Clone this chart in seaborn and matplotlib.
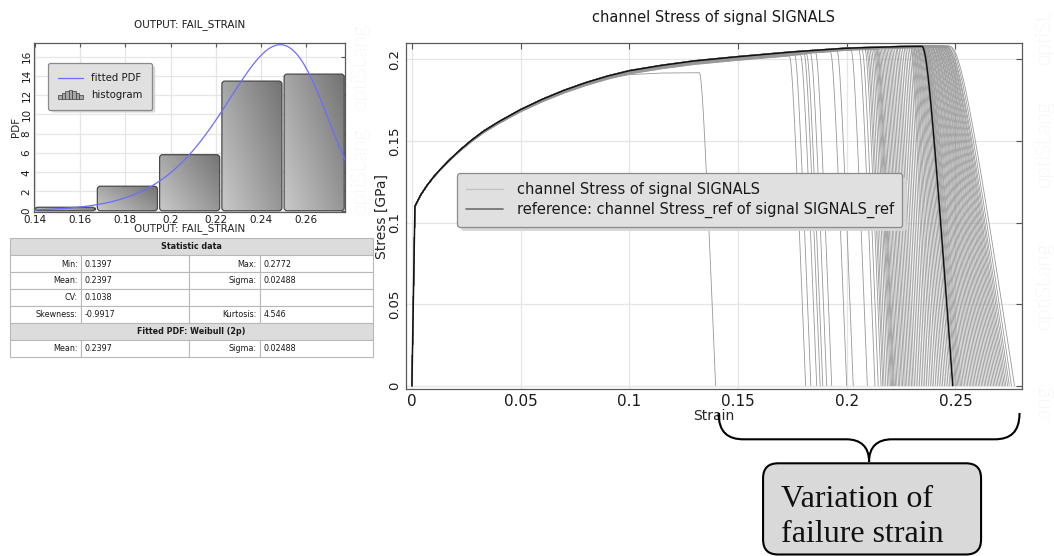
import math
import numpy as np
import pandas as pd
import matplotlib
matplotlib.use("Agg")
import matplotlib.pyplot as plt
from matplotlib.patches import FancyBboxPatch, Rectangle, PathPatch
from matplotlib.path import Path
from matplotlib.lines import Line2D
from matplotlib.legend_handler import HandlerBase
from matplotlib.colors import LinearSegmentedColormap
from matplotlib.transforms import Bbox, TransformedBbox
import seaborn as sns

# ---------------------------------------------------------------- data
# reference hardening curve (strain, stress in GPa)
ref_strain = [0.0, 0.0014, 0.004, 0.007, 0.010, 0.013, 0.017, 0.022, 0.0275,
              0.033, 0.040, 0.050, 0.060, 0.070, 0.080, 0.090, 0.100, 0.115,
              0.130, 0.150, 0.175, 0.200, 0.225, 0.245, 0.260]
ref_stress = [0.0, 0.1100, 0.1168, 0.1228, 0.1280, 0.1325, 0.1380, 0.1443, 0.1505,
              0.1560, 0.1618, 0.1692, 0.1755, 0.1810, 0.1857, 0.1897, 0.1930, 0.1963,
              0.1990, 0.2016, 0.2045, 0.2068, 0.2078, 0.2081, 0.2082]
ref_fail_strain = 0.2488

# failure strain of the 100 sampled designs
fail_strain = [
    0.1397,
    0.1811, 0.1835, 0.1862, 0.1878, 0.1890, 0.1908, 0.1931,
    0.2000, 0.2030, 0.2095, 0.2130, 0.2145, 0.2158, 0.2166, 0.2172, 0.2180, 0.2188,
    0.2195, 0.2201, 0.2206, 0.2211, 0.2215, 0.2219,
    0.2225, 0.2231, 0.2238, 0.2244, 0.2251, 0.2257, 0.2264, 0.2270, 0.2277, 0.2284,
    0.2291, 0.2298, 0.2305, 0.2312, 0.2320, 0.2328, 0.2336, 0.2344, 0.2352, 0.2360,
    0.2368, 0.2376, 0.2385, 0.2393, 0.2401, 0.2410, 0.2418, 0.2426, 0.2434, 0.2442,
    0.2450, 0.2458, 0.2466, 0.2474, 0.2481, 0.2488, 0.2494,
    0.2500, 0.2505, 0.2511, 0.2517, 0.2523, 0.2529, 0.2536, 0.2543, 0.2550, 0.2557,
    0.2564, 0.2571, 0.2578, 0.2585, 0.2592, 0.2599, 0.2606, 0.2613, 0.2620, 0.2627,
    0.2634, 0.2641, 0.2648, 0.2655, 0.2662, 0.2669, 0.2676, 0.2683, 0.2690, 0.2697,
    0.2704, 0.2711, 0.2718, 0.2725, 0.2732, 0.2740, 0.2748, 0.2758, 0.2772,
]
# scale on the hardening part of each sampled curve
hardening_scale = [
    0.985,
    0.975, 0.982, 0.978, 0.986, 0.980, 0.984, 0.988,
    0.984, 0.990, 0.986, 0.992, 0.988, 0.994, 0.990, 0.996, 0.992, 0.987,
    0.995, 0.991, 0.997, 0.993, 0.989, 0.996,
    0.992, 0.998, 0.994, 1.000, 0.990, 0.996, 0.993, 0.999, 0.995, 0.991,
    0.997, 1.002, 0.994, 0.998, 0.992, 0.996, 1.000, 0.993, 0.997, 0.995,
    0.999, 0.991, 0.996, 1.001, 0.994, 0.998, 0.992, 0.997, 1.000, 0.995,
    0.993, 0.999, 0.996, 1.002, 0.994, 0.998, 0.995,
    0.996, 1.000, 0.993, 0.998, 1.003, 0.995, 0.999, 0.992, 0.997, 1.001,
    0.994, 0.998, 1.002, 0.996, 0.993, 0.999, 1.000, 0.995, 0.997, 1.003,
    0.994, 0.998, 0.996, 1.001, 0.993, 0.999, 0.997, 1.002, 0.995, 0.998,
    1.000, 0.994, 0.997, 1.001, 0.996, 0.999, 0.995, 1.002, 0.998,
]
# the earliest failing design saturates on a lower plateau (failure strain, stress)
low_plateau = (0.1397, 0.1918)

n_bins = 5
fit_mean = 0.2397
fit_sigma = 0.02488

stat_table = [
    ("header", "Statistic data"),
    ("cells", ("Min:", "0.1397", "Max:", "0.2772")),
    ("cells", ("Mean:", "0.2397", "Sigma:", "0.02488")),
    ("cells", ("CV:", "0.1038", "", "")),
    ("cells", ("Skewness:", "-0.9917", "Kurtosis:", "4.546")),
    ("header", "Fitted PDF: Weibull (2p)"),
    ("cells", ("Mean:", "0.2397", "Sigma:", "0.02488")),
]

x_ticks = [0, 0.05, 0.1, 0.15, 0.2, 0.25]
y_ticks = [0, 0.05, 0.1, 0.15, 0.2]
hx_ticks = [0.14, 0.16, 0.18, 0.2, 0.22, 0.24, 0.26]
hy_ticks = [0, 2, 4, 6, 8, 10, 12, 14, 16]

# ---------------------------------------------------------------- helpers
YIELD = ref_stress[1]


def stress_curve(ef, k, cap=None):
    """Scaled hardening curve followed by a softening branch ending at ef."""
    e = np.asarray(ref_strain)
    s = np.asarray(ref_stress)
    s = np.where(e >= ref_strain[1], YIELD + k * (s - YIELD), s)
    if cap is not None:
        beta = 600.0
        s = np.where(e >= ref_strain[1],
                     -np.log(np.exp(-beta * s) + np.exp(-beta * cap)) / beta, s)
    onset = min(ef - 0.0075, 0.2230 + 0.45 * (ef - 0.2230))
    keep = e < onset
    s_on = np.interp(onset, e, s)
    t = np.linspace(0.0, 1.0, 50)
    r = 0.25
    drop = (np.sqrt(t ** 2 + r ** 2) - r) / (np.sqrt(1 + r ** 2) - r)
    e_drop = onset + t * (ef - onset)
    s_drop = s_on * (1.0 - drop)
    return np.concatenate([e[keep], e_drop]), np.concatenate([s[keep], s_drop])


def weibull_shape(cv):
    lo, hi = 1.0, 80.0
    for _ in range(100):
        k = 0.5 * (lo + hi)
        g1 = math.gamma(1 + 1 / k)
        g2 = math.gamma(1 + 2 / k)
        if math.sqrt(g2 / g1 ** 2 - 1) > cv:
            lo = k
        else:
            hi = k
    return k


class HistIcon:
    pass


class HistIconHandler(HandlerBase):
    def create_artists(self, legend, orig_handle, xdescent, ydescent,
                       width, height, fontsize, trans):
        rel = [0.3, 0.6, 0.95, 1.1, 0.95, 0.6, 0.3]
        bw = width / len(rel)
        arts = []
        for i, r in enumerate(rel):
            arts.append(Rectangle((-xdescent + i * bw, -ydescent - 1), bw, height * r + 1,
                                  facecolor="#a8a8a8", edgecolor="#3c3c3c", lw=0.5,
                                  transform=trans))
        return arts


# ---------------------------------------------------------------- figure
sns.set_style("white")
plt.rcParams["font.family"] = ["DejaVu Sans"]
plt.rcParams["text.color"] = "#1a1a1a"

W, H = 1054, 556
fig = plt.figure(figsize=(W / 100, H / 100), dpi=100)


def fx(x):
    return x / W


def fy(y):
    return 1 - y / H


ax = fig.add_axes([fx(405.7), fy(389.3), (1021.7 - 405.7) / W, (389.3 - 43.3) / H])
axh = fig.add_axes([fx(34), fy(212), (345.3 - 34) / W, (212 - 42.7) / H])
axt = fig.add_axes([fx(10), fy(356.7), (373 - 10) / W, (356.7 - 238.3) / H])

for a in (ax, axh):
    a.set_axisbelow(True)
    a.grid(True, color="#e6e6e6", lw=0.9)
    a.tick_params(direction="in", top=True, right=True, length=4, width=0.8,
                  color="#555555", labelcolor="#1a1a1a")
    for sp in a.spines.values():
        sp.set_color("#5a5a5a")
        sp.set_linewidth(0.9)

# ---------------------------------------------------------------- stress-strain curves
frames = []
for i, (ef, k) in enumerate(zip(fail_strain, hardening_scale)):
    cap = low_plateau[1] if ef == low_plateau[0] else None
    e, s = stress_curve(ef, k, cap)
    frames.append(pd.DataFrame({"sample": i, "strain": e, "stress": s}))
curves = pd.concat(frames, ignore_index=True)

sns.lineplot(data=curves, x="strain", y="stress", units="sample", estimator=None,
             sort=False, color="#979797", lw=0.6, ax=ax, legend=False)
e_ref, s_ref = stress_curve(ref_fail_strain, 1.0)
sns.lineplot(x=e_ref, y=s_ref, sort=False, color="#111111", lw=1.1, ax=ax)

ax.set_xlim(-0.00285, 0.2805)
ax.set_ylim(-0.0022, 0.2098)
ax.set_xticks(x_ticks)
ax.set_xticklabels([f"{v:g}" for v in x_ticks], fontsize=11)
ax.set_yticks(y_ticks)
ax.set_yticklabels([f"{v:g}" for v in y_ticks], fontsize=9.5, rotation=90, va="center")
ax.tick_params(axis="x", pad=3.5)
ax.tick_params(axis="y", pad=3)
ax.set_xlabel("Strain", fontsize=10, labelpad=0)
ax.set_ylabel("Stress [GPa]", fontsize=10, labelpad=0)
ax.set_title("channel Stress of signal SIGNALS", fontsize=10.5, pad=15)

leg = ax.legend(
    [Line2D([], [], color="#c2c2c2", lw=1.0), Line2D([], [], color="#6f6f6f", lw=1.2)],
    ["channel Stress of signal SIGNALS", "reference: channel Stress_ref of signal SIGNALS_ref"],
    loc="upper left", bbox_to_anchor=(0.083, 0.624), borderaxespad=0,
    fontsize=10.5, frameon=True, fancybox=True, framealpha=1,
    facecolor="#e0e0e0", edgecolor="#8a8a8a",
    shadow={"ox": 3, "oy": -3, "facecolor": "#d6d6d6", "edgecolor": "none", "alpha": 1},
    handlelength=2.6, handletextpad=0.9, borderpad=0.6, labelspacing=0.32)
leg.get_frame().set_linewidth(0.9)

# ---------------------------------------------------------------- histogram
lo_x, hi_x = min(fail_strain), max(fail_strain)
edges = np.linspace(lo_x, hi_x, n_bins + 1)
sns.histplot(x=fail_strain, bins=edges, stat="density", shrink=0.965, ax=axh,
             color="#9a9a9a", edgecolor="#4a4a4a", linewidth=0.8, alpha=1)

k_w = weibull_shape(fit_sigma / fit_mean)
lam = fit_mean / math.gamma(1 + 1 / k_w)
xs = np.linspace(lo_x, hi_x, 400)
pdf = k_w / lam * (xs / lam) ** (k_w - 1) * np.exp(-(xs / lam) ** k_w)
sns.lineplot(x=xs, y=pdf, color="#6c6cff", lw=0.9, ax=axh, zorder=4)

axh.set_xlim(lo_x, hi_x)
axh.set_ylim(-0.13, pdf.max() * 1.012)

# gradient-filled, rounded bars
fig.canvas.draw()
bb = axh.get_window_extent()
x_per_px = (hi_x - lo_x) / bb.width
y_per_px = (axh.get_ylim()[1] - axh.get_ylim()[0]) / bb.height
aspect = y_per_px / x_per_px
gray_cmap = LinearSegmentedColormap.from_list("bar", ["#c9c9c9", "#737373"])
gu, gv = np.meshgrid(np.linspace(0, 1, 60), np.linspace(0, 1, 60))
grad = 0.6 * gu + 0.4 * (1 - gv)
for p in list(axh.patches):
    x0, y0, w, h = p.get_x(), p.get_y(), p.get_width(), p.get_height()
    p.set_visible(False)
    fb = FancyBboxPatch((x0, y0), w, h,
                        boxstyle=f"round,pad=0,rounding_size={3 * x_per_px}",
                        mutation_aspect=aspect, facecolor="none",
                        edgecolor="#4a4a4a", lw=0.9, zorder=2)
    axh.add_patch(fb)
    im = axh.imshow(grad[::-1], extent=[x0, x0 + w, y0, y0 + h], origin="lower",
                    aspect="auto", cmap=gray_cmap, zorder=1.5, interpolation="bilinear")
    im.set_clip_path(fb)
axh.set_xlim(lo_x, hi_x)
axh.set_ylim(-0.13, pdf.max() * 1.012)
axh.set_aspect("auto")

axh.set_xticks(hx_ticks)
axh.set_xticklabels([f"{v:g}" for v in hx_ticks], fontsize=7.5)
axh.set_yticks(hy_ticks)
axh.set_yticklabels([str(v) for v in hy_ticks], fontsize=7.5, rotation=90, va="center")
axh.tick_params(axis="x", pad=2)
axh.tick_params(axis="y", pad=1.8, length=3)
axh.tick_params(axis="x", length=3)
axh.set_xlabel("OUTPUT: FAIL_STRAIN", fontsize=7.5, labelpad=-1)
axh.set_ylabel("PDF", fontsize=7.5, labelpad=0)
axh.set_title("OUTPUT: FAIL_STRAIN", fontsize=7.5, pad=11)

hleg = axh.legend(
    [Line2D([], [], color="#6c6cff", lw=0.9), HistIcon()], ["fitted PDF", "histogram"],
    handler_map={HistIcon: HistIconHandler()},
    loc="upper left", bbox_to_anchor=(0.046, 0.878), borderaxespad=0,
    fontsize=7.3, frameon=True, fancybox=True, framealpha=1,
    facecolor="#e0e0e0", edgecolor="#8a8a8a",
    shadow={"ox": 2, "oy": -2, "facecolor": "#d6d6d6", "edgecolor": "none", "alpha": 1},
    handlelength=2.4, handletextpad=0.8, borderpad=1.0, labelspacing=0.6)
hleg.get_frame().set_linewidth(0.9)
hleg.set_zorder(6)

# ---------------------------------------------------------------- statistics table
col_x = [0.0, 0.196, 0.492, 0.688, 1.0]
axt.set_xlim(0, 1)
axt.set_ylim(len(stat_table), 0)
axt.axis("off")
cell_edge = "#b8b8b8"
for r, (kind, content) in enumerate(stat_table):
    if kind == "header":
        axt.add_patch(Rectangle((0, r), 1, 1, facecolor="#dcdcdc", edgecolor=cell_edge,
                                lw=0.8, clip_on=False))
        axt.text(0.5, r + 0.5, content, ha="center", va="center", fontsize=5.8,
                 fontweight="bold", color="#1a1a1a")
    else:
        for c in range(4):
            axt.add_patch(Rectangle((col_x[c], r), col_x[c + 1] - col_x[c], 1,
                                    facecolor="white", edgecolor=cell_edge, lw=0.8,
                                    clip_on=False))
            txt = content[c]
            if not txt:
                continue
            if c % 2 == 0:
                axt.text(col_x[c + 1] - 0.009, r + 0.52, txt, ha="right", va="center",
                         fontsize=5.8, color="#1a1a1a")
            else:
                axt.text(col_x[c] + 0.01, r + 0.52, txt, ha="left", va="center",
                         fontsize=5.8, color="#1a1a1a")

# ---------------------------------------------------------------- watermark
mark_kw = dict(rotation=90, color="#e2e2e2", fontsize=15, ha="center", va="center",
               family=["Lato", "DejaVu Sans"], fontweight="light")
for yc in (66.5, 170):
    fig.text(fx(360), fy(yc), "optiSLang", **mark_kw)
fig.text(fx(1044), fy(36), "optiSL", **mark_kw)
clip = TransformedBbox(Bbox([[0, fy(425)], [1, 1]]), fig.transFigure)
for yc in (143, 285, 428):
    t = fig.text(fx(1044), fy(yc), "optiSLang", **mark_kw)
    t.set_clip_box(clip)
    t.set_clip_on(True)

# ---------------------------------------------------------------- failure-strain callout
fig.canvas.draw()
px_left = ax.transData.transform((lo_x, 0))[0] + 3
px_right = ax.transData.transform((hi_x, 0))[0] + 5
px_mid = 0.5 * (px_left + px_right)
top_y, flat_y, tip_y = 413, 439.3, 461.7
verts = [
    (px_left, top_y), (px_left, 432), (px_left + 9, flat_y), (px_left + 25, flat_y),
    (px_mid - 23, flat_y),
    (px_mid - 8, flat_y), (px_mid, 447), (px_mid, tip_y),
    (px_mid, 447), (px_mid + 8, flat_y), (px_mid + 23, flat_y),
    (px_right - 25, flat_y),
    (px_right - 9, flat_y), (px_right, 432), (px_right, top_y),
]
codes = [Path.MOVETO, Path.CURVE4, Path.CURVE4, Path.CURVE4, Path.LINETO,
         Path.CURVE4, Path.CURVE4, Path.CURVE4, Path.CURVE4, Path.CURVE4, Path.CURVE4,
         Path.LINETO, Path.CURVE4, Path.CURVE4, Path.CURVE4]
brace = Path([(fx(x), fy(y)) for x, y in verts], codes)
fig.patches.append(PathPatch(brace, facecolor="none", edgecolor="black", lw=1.5,
                             transform=fig.transFigure, figure=fig))

box_l, box_r, box_t, box_b = px_mid - 106, px_mid + 112, 463.3, 554.5
fig.patches.append(FancyBboxPatch(
    (fx(box_l), fy(box_b)), (box_r - box_l) / W, (box_b - box_t) / H,
    boxstyle=f"round,pad=0,rounding_size={15 / W}", mutation_aspect=W / H,
    facecolor="#d9d9d9", edgecolor="black", lw=1.5,
    transform=fig.transFigure, figure=fig))
fig.text(fx(box_l + 17.5), fy(541.7), "Variation of\nfailure strain",
         family=["Liberation Serif", "DejaVu Serif"], fontsize=23, color="#111111",
         ha="left", va="baseline", linespacing=1.25)

fig.savefig("out.png", dpi=100)
